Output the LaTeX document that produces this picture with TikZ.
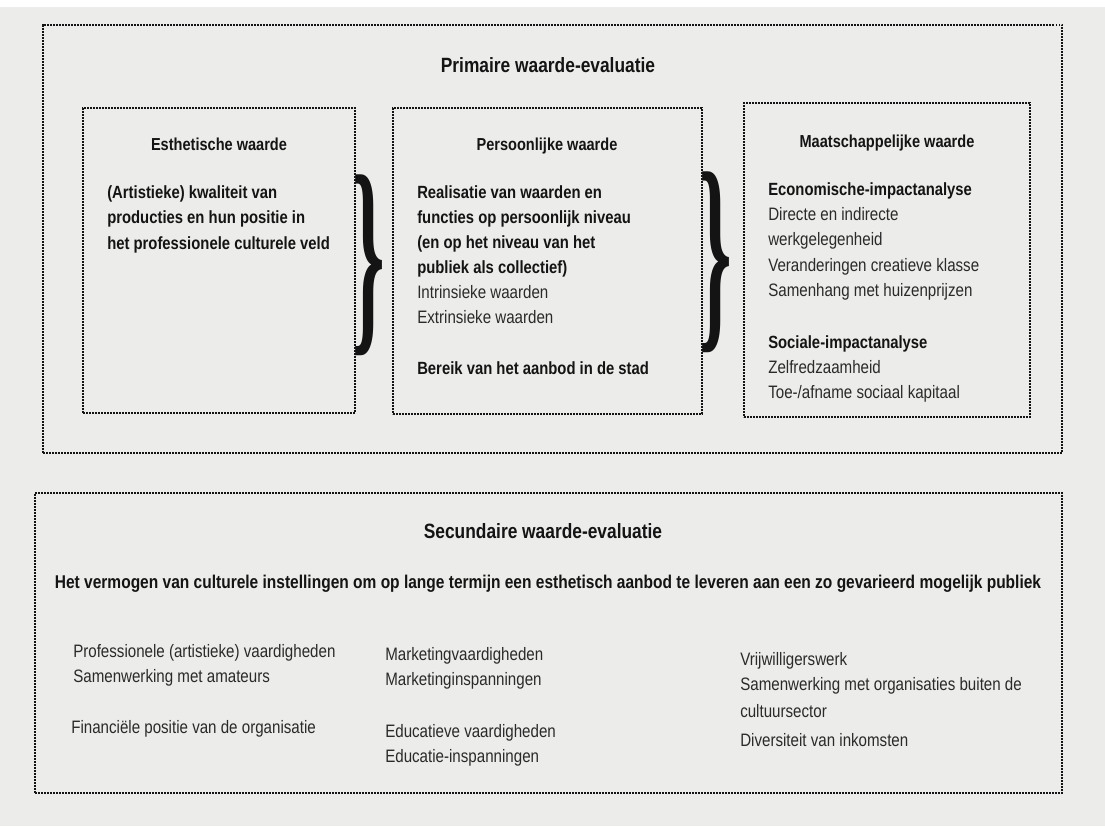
\documentclass[tikz,border=0pt]{standalone}
\usepackage{fontspec}
\setmainfont{Liberation Sans}[FakeStretch=0.84]
\newfontfamily\bracefont{Liberation Serif}
\usetikzlibrary{fit}
\definecolor{paper}{RGB}{236,236,234}
\definecolor{ink}{RGB}{20,20,20}
\definecolor{inkreg}{RGB}{42,42,42}
\tikzset{
 dotbox/.style={draw=ink, line width=1.5pt, dash pattern=on 1.15pt off 1.1pt, inner sep=0pt},
 ttl/.style={font=\fontsize{13}{16}\selectfont\bfseries, text=ink, inner sep=0pt, anchor=base},
 sectl/.style={font=\fontsize{15.5}{18}\selectfont\bfseries, text=ink, inner sep=0pt, anchor=base},
 bl/.style={font=\fontsize{13.25}{16}\selectfont\bfseries, text=ink, inner sep=0pt, anchor=base west},
 rl/.style={font=\fontsize{13.5}{16}\selectfont, text=inkreg, inner sep=0pt, anchor=base west},
 bracenode/.style={font=\bracefont\bfseries\fontsize{40}{40}\selectfont, text=ink, inner sep=0pt},
}
\begin{document}
\begin{tikzpicture}[x=0.75pt, y=-0.75pt]
\useasboundingbox (0,0) rectangle (1105,826);
\fill[paper] (0,0) rectangle (1105,826);
\fill[white] (0,0) rectangle (1105,7);
% boxes
\node[dotbox, fit={(43,25) (1062,453)}] (prim) {};
\node[dotbox, fit={(83,108) (355,413)}] (esth) {};
\node[dotbox, fit={(393,108) (702,414)}] (pers) {};
\node[dotbox, fit={(744,103) (1030,417)}] (maat) {};
\node[dotbox, fit={(35,493) (1062,793)}] (sec) {};
% braces
\node[bracenode] (br1) at (369,265) {\scalebox{1.55}[4.1]{\}}};
\node[bracenode] (br2) at (716,262) {\scalebox{1.55}[4.1]{\}}};
% primary
\node[sectl] (primt) at (548,72) {Primaire waarde-evaluatie};
\node[ttl] (estht) at (219,150) {Esthetische waarde};
\node[ttl] (perst) at (547,150) {Persoonlijke waarde};
\node[ttl] (maatt) at (887,147) {Maatschappelijke waarde};
% esthetic
\node[bl] (e1) at (107,198) {(Artistieke) kwaliteit van};
\node[bl] (e2) at (107,223.5) {producties en hun positie in};
\node[bl] (e3) at (107,249) {het professionele culturele veld};
% personal
\node[bl] (p1) at (417,198) {Realisatie van waarden en};
\node[bl] (p2) at (417,223) {functies op persoonlijk niveau};
\node[bl] (p3) at (417,248) {(en op het niveau van het};
\node[bl] (p4) at (417,273) {publiek als collectief)};
\node[rl] (p5) at (417,298) {Intrinsieke waarden};
\node[rl] (p6) at (417,323) {Extrinsieke waarden};
\node[bl] (p7) at (417,374) {Bereik van het aanbod in de stad};
% societal
\node[bl] (m1) at (768,195) {Economische-impactanalyse};
\node[rl] (m2) at (768,220) {Directe en indirecte};
\node[rl] (m3) at (768,245) {werkgelegenheid};
\node[rl] (m4) at (768,271) {Veranderingen creatieve klasse};
\node[rl] (m5) at (768,296) {Samenhang met huizenprijzen};
\node[bl] (m6) at (768,348) {Sociale-impactanalyse};
\node[rl] (m7) at (768,373) {Zelfredzaamheid};
\node[rl] (m8) at (768,398) {Toe-/afname sociaal kapitaal};
% secondary
\node[sectl] (sect) at (543,538) {Secundaire waarde-evaluatie};
\node[ttl, font=\fontsize{13.85}{16}\selectfont\bfseries] (secs) at (548,588) {Het vermogen van culturele instellingen om op lange termijn een esthetisch aanbod te leveren aan een zo gevarieerd mogelijk publiek};
\node[rl] (s1) at (73,657) {Professionele (artistieke) vaardigheden};
\node[rl] (s2) at (73,682) {Samenwerking met amateurs};
\node[rl] (s3) at (71,733) {Financiële positie van de organisatie};
\node[rl] (s4) at (385,660) {Marketingvaardigheden};
\node[rl] (s5) at (385,685) {Marketinginspanningen};
\node[rl] (s6) at (385,737) {Educatieve vaardigheden};
\node[rl] (s7) at (385,762) {Educatie-inspanningen};
\node[rl] (s8) at (740,665) {Vrijwilligerswerk};
\node[rl] (s9) at (740,690) {Samenwerking met organisaties buiten de};
\node[rl] (s10) at (740,717) {cultuursector};
\node[rl] (s11) at (740,746) {Diversiteit van inkomsten};
\end{tikzpicture}
\end{document}
